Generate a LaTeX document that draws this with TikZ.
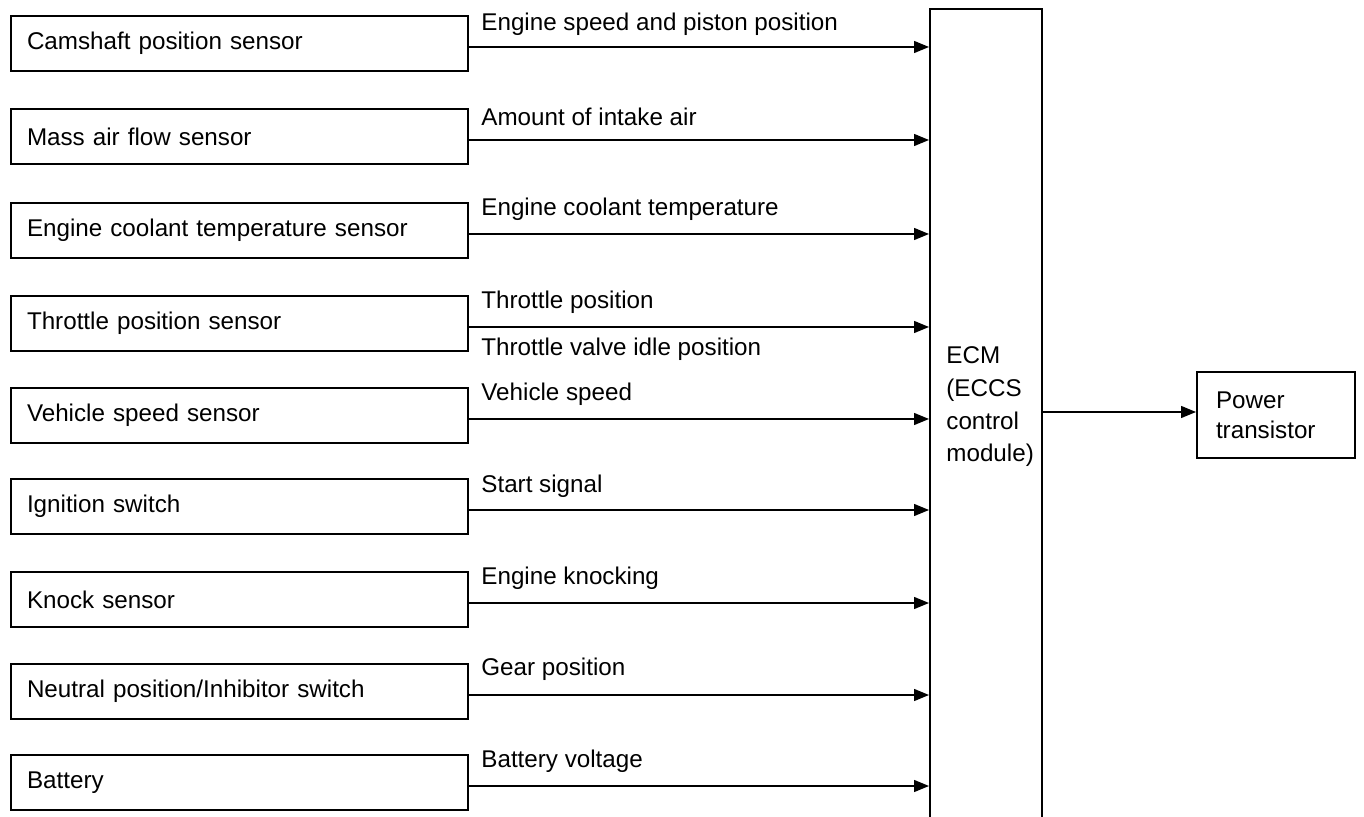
\documentclass[tikz,border=0pt]{standalone}
\usepackage{fontspec}
\setmainfont{Liberation Sans}
\usetikzlibrary{arrows.meta}
\begin{document}
\begin{tikzpicture}[x=0.5pt,y=-0.5pt,
  every node/.style={font=\fontsize{12.1}{14}\selectfont},
  sbox/.style={draw,line width=1pt,anchor=north west,minimum width=228.5pt,minimum height=27.5pt,
    text width=212.5pt,inner xsep=8pt,align=left},
  lbl/.style={anchor=west,inner sep=0pt},
  arr/.style={line width=0.7pt,-{Triangle[length=7.5pt,width=6pt]}}]
\useasboundingbox (0,0) rectangle (1364,817);
% ECM box (open at bottom, continues past the page)
\node[draw,line width=1pt,anchor=north west,minimum width=56pt,minimum height=420pt,inner sep=0pt] (ecm) at (929,8) {};
\node[anchor=west,align=left,inner sep=0pt,font=\fontsize{12.1}{16.35}\selectfont] (ecmtxt) at (946,407) {ECM\\(ECCS\\control\\module)};
% Power transistor
\node[draw,line width=1pt,anchor=north west,minimum width=79pt,minimum height=43pt,text width=60pt,inner xsep=9.5pt,align=left,font=\fontsize{12.1}{15}\selectfont] (pt) at (1196,371) {Power\\transistor};
\draw[arr] ([yshift=1.5pt]pt.west -| ecm.east) -- ([yshift=1.5pt]pt.west);
% Sensors
\node[sbox] (s1) at (10,15) {Camshaft position sensor};
\node[sbox] (s2) at (10,108) {Mass air flow sensor};
\node[sbox] (s3) at (10,202) {Engine coolant temperature sensor};
\node[sbox] (s4) at (10,295) {Throttle position sensor};
\node[sbox] (s5) at (10,387) {Vehicle speed sensor};
\node[sbox] (s6) at (10,478) {Ignition switch};
\node[sbox] (s7) at (10,571) {Knock sensor};
\node[sbox] (s8) at (10,663) {Neutral position/Inhibitor switch};
\node[sbox] (s9) at (10,754) {Battery};
\foreach \i in {1,...,9}{
  \draw[arr] ([yshift=-1.75pt]s\i.east) -- ([yshift=-1.75pt]s\i.east -| ecm.west);
}
% Labels
\node[lbl] (l1) at (481,24) {Engine speed and piston position};
\node[lbl] (l2) at (481,117) {Amount of intake air};
\node[lbl] (l3) at (481,209) {Engine coolant temperature};
\node[lbl] (l4) at (481,302) {Throttle position};
\node[lbl] (l4b) at (481,349) {Throttle valve idle position};
\node[lbl] (l5) at (481,394) {Vehicle speed};
\node[lbl] (l6) at (481,486) {Start signal};
\node[lbl] (l7) at (481,578) {Engine knocking};
\node[lbl] (l8) at (481,669) {Gear position};
\node[lbl] (l9) at (481,761) {Battery voltage};
\end{tikzpicture}
\end{document}
